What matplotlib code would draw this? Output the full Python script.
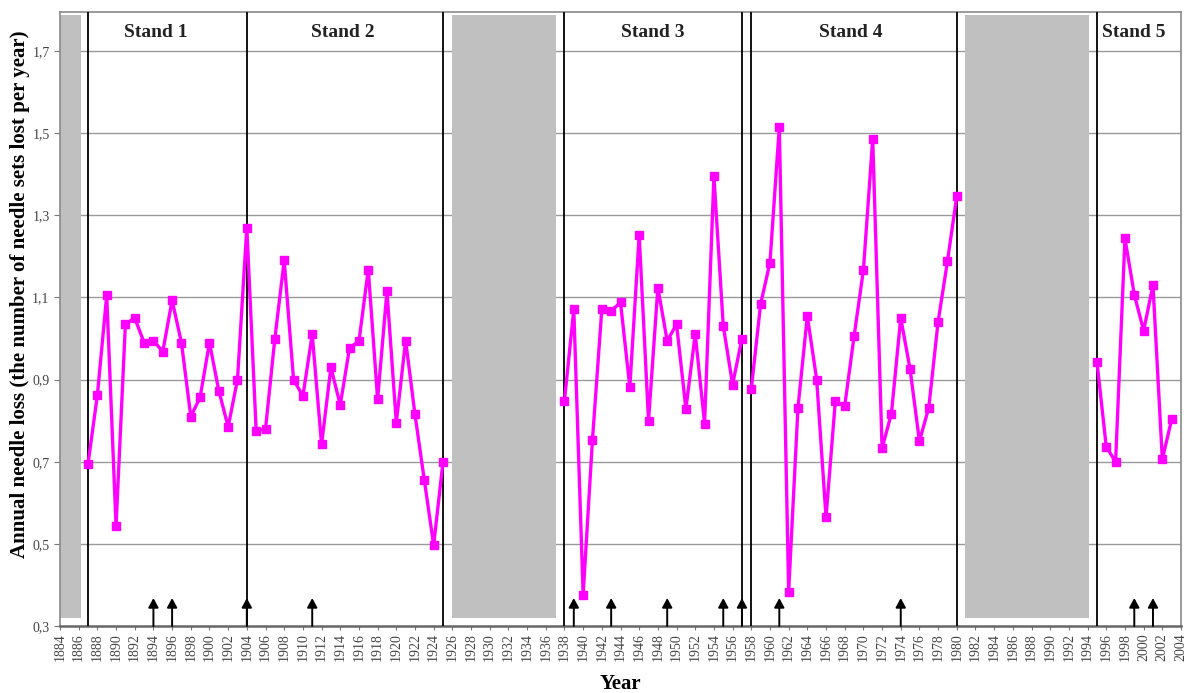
import numpy as np
import matplotlib; matplotlib.use('Agg')
import matplotlib.pyplot as plt
from matplotlib.patches import Rectangle

# annual needle loss per stand (year, value)
stand12_years = list(range(1887, 1926))
stand12_vals = [0.695, 0.862, 1.105, 0.543, 1.035, 1.050, 0.990, 0.995, 0.968, 1.093,
                0.990, 0.810, 0.857, 0.990, 0.873, 0.785, 0.900, 1.270, 0.775, 0.780,
                1.000, 1.190, 0.900, 0.860, 1.010, 0.742, 0.930, 0.838, 0.978, 0.993,
                1.168, 0.852, 1.115, 0.795, 0.995, 0.815, 0.655, 0.497, 0.700]
stand3_years = list(range(1938, 1958))
stand3_vals = [0.848, 1.071, 0.376, 0.754, 1.071, 1.067, 1.088, 0.881, 1.252, 0.800,
               1.124, 0.994, 1.035, 0.829, 1.011, 0.793, 1.395, 1.031, 0.888, 1.000]
stand4_years = list(range(1958, 1981))
stand4_vals = [0.877, 1.084, 1.185, 1.515, 0.384, 0.832, 1.055, 0.900, 0.565, 0.848,
               0.835, 1.005, 1.166, 1.486, 0.733, 0.817, 1.050, 0.925, 0.750, 0.832,
               1.041, 1.188, 1.347]
stand5_years = list(range(1995, 2004))
stand5_vals = [0.944, 0.736, 0.700, 1.244, 1.107, 1.019, 1.130, 0.706, 0.803]

boundaries = [1887, 1904, 1925, 1938, 1957, 1958, 1980, 1995]
gaps = [(1884.0, 1886.2), (1926.0, 1937.1), (1980.9, 1994.1)]
arrow_years = [1894, 1896, 1904, 1911, 1939, 1943, 1949, 1955, 1957, 1961, 1974, 1999, 2001]
stand_labels = ['Stand 1', 'Stand 2', 'Stand 3', 'Stand 4', 'Stand 5']
stand_label_x = [1894.3, 1914.3, 1947.4, 1968.7, 1998.9]

yticks = [0.3, 0.5, 0.7, 0.9, 1.1, 1.3, 1.5, 1.7]

plt.rcParams['font.family'] = ['Liberation Serif', 'DejaVu Serif']

fig = plt.figure(figsize=(11.87, 6.93), dpi=100)
ax = fig.add_axes([60/1187, 67/693, 1121/1187, 614/693])
ax.set_xlim(1884, 2004)
ax.set_ylim(0.3, 1.795)

for y in yticks[1:]:
    ax.axhline(y, color='#9a9a9a', lw=1.0, zorder=1)

for x0, x1 in gaps:
    ax.add_patch(Rectangle((x0, 0.32), x1 - x0, 1.468, facecolor='#c0c0c0',
                           edgecolor='none', zorder=2))

for b in boundaries:
    ax.axvline(b, color='black', lw=1.3, zorder=3)

for yrs, vals in [(stand12_years, stand12_vals), (stand3_years, stand3_vals),
                  (stand4_years, stand4_vals), (stand5_years, stand5_vals)]:
    ax.plot(yrs, vals, color='#ff00ff', lw=2.4, marker='s', ms=6,
            mfc='#ff00ff', mec='#ff00ff', zorder=5)

for a in arrow_years:
    ax.annotate('', xy=(a, 0.368), xytext=(a, 0.3),
                arrowprops=dict(arrowstyle='-|>,head_length=0.55,head_width=0.3',
                                color='black', lw=1.4, shrinkA=0, shrinkB=0), zorder=4)

for lab, x in zip(stand_labels, stand_label_x):
    ax.text(x, 1.745, lab, ha='center', va='center', fontsize=14,
            fontweight='bold', color='#222222', zorder=6)

ax.set_yticks(yticks)
ax.set_yticklabels([f'{v:.1f}'.replace('.', ',') for v in yticks], fontsize=10, color='#444444')
ax.set_xticks(range(1884, 2005, 2))
ax.set_xticklabels([str(y) for y in range(1884, 2005, 2)], rotation=90, fontsize=10, color='#444444')
ax.tick_params(axis='y', length=4, color='#777777')
ax.tick_params(axis='x', length=3, pad=2, color='#777777')

for s in ax.spines.values():
    s.set_color('#8a8a8a')
    s.set_linewidth(1.2)
ax.spines['bottom'].set_color('#666666')
ax.spines['bottom'].set_linewidth(1.8)

ax.set_ylabel('Annual needle loss (the number of needle sets lost per year)',
              fontsize=15, fontweight='bold')
ax.yaxis.set_label_coords(-0.027, 0.54)
ax.set_xlabel('Year', fontsize=15, fontweight='bold')
ax.xaxis.set_label_coords(0.5, -0.078)

fig.savefig('out.png', dpi=100)
plt.close(fig)
